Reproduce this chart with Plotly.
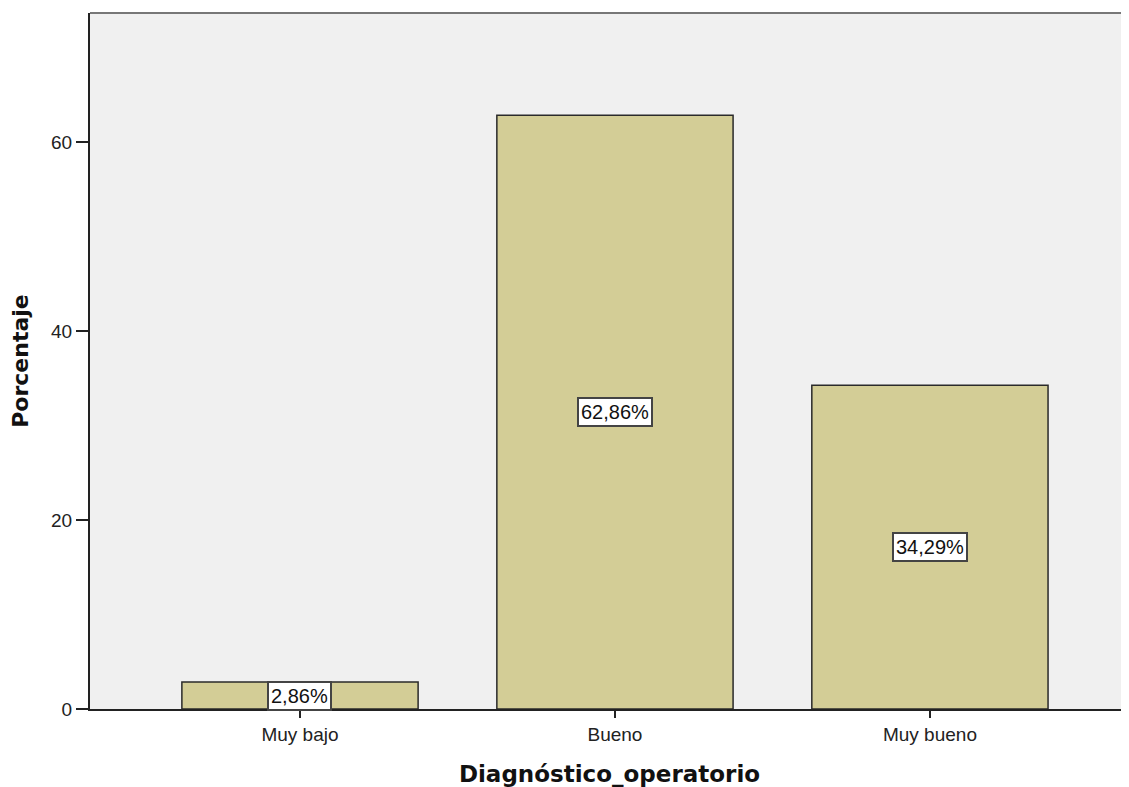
import plotly.graph_objects as go

categories = ["Muy bajo", "Bueno", "Muy bueno"]
percentages = [2.86, 62.86, 34.29]
value_labels = ["2,86%", "62,86%", "34,29%"]
y_ticks = [0, 20, 40, 60]

fig = go.Figure()
fig.add_trace(go.Bar(
    x=list(range(len(categories))),
    y=percentages,
    width=0.75,
    marker=dict(color="#D3CD96", line=dict(color="#2A2A2A", width=1.5)),
    hoverinfo="skip",
))

for i, (v, lab) in enumerate(zip(percentages, value_labels)):
    fig.add_annotation(
        x=i, y=v / 2, text=lab, showarrow=False,
        font=dict(family="Liberation Sans, Arial", size=20, color="#111111"),
        bgcolor="white", bordercolor="#444444", borderwidth=2, borderpad=2,
    )

fig.update_layout(
    width=1121, height=779,
    margin=dict(l=82, r=0, t=5, b=78),
    paper_bgcolor="white",
    plot_bgcolor="#F0F0F0",
    showlegend=False,
    xaxis=dict(
        range=[-0.6667, 2.632],
        tickmode="array",
        tickvals=list(range(len(categories))),
        ticktext=categories,
        ticks="outside", ticklen=7, tickwidth=2, tickcolor="#222222",
        showline=True, linecolor="#222222", linewidth=2,
        showgrid=False, zeroline=False,
        tickfont=dict(family="Liberation Sans, Arial", size=19, color="#222222"),
        title=dict(text="<b>Diagnóstico_operatorio</b>",
                   font=dict(family="DejaVu Sans", size=23, color="#111111"),
                   standoff=24),
    ),
    yaxis=dict(
        range=[0, 73.7],
        tickmode="array",
        tickvals=y_ticks,
        ticks="outside", ticklen=12, tickwidth=2, tickcolor="#222222",
        showline=True, linecolor="#222222", linewidth=2,
        showgrid=False, zeroline=False,
        tickfont=dict(family="Liberation Sans, Arial", size=19, color="#222222"),
        title=dict(text="<b>Porcentaje</b>",
                   font=dict(family="DejaVu Sans", size=22, color="#111111"),
                   standoff=20),
    ),
)

# top border of the plot area
fig.add_shape(type="line", xref="paper", yref="paper", x0=0, x1=1, y0=1, y1=1,
              line=dict(color="#777777", width=2))

fig.write_html("out.html")
